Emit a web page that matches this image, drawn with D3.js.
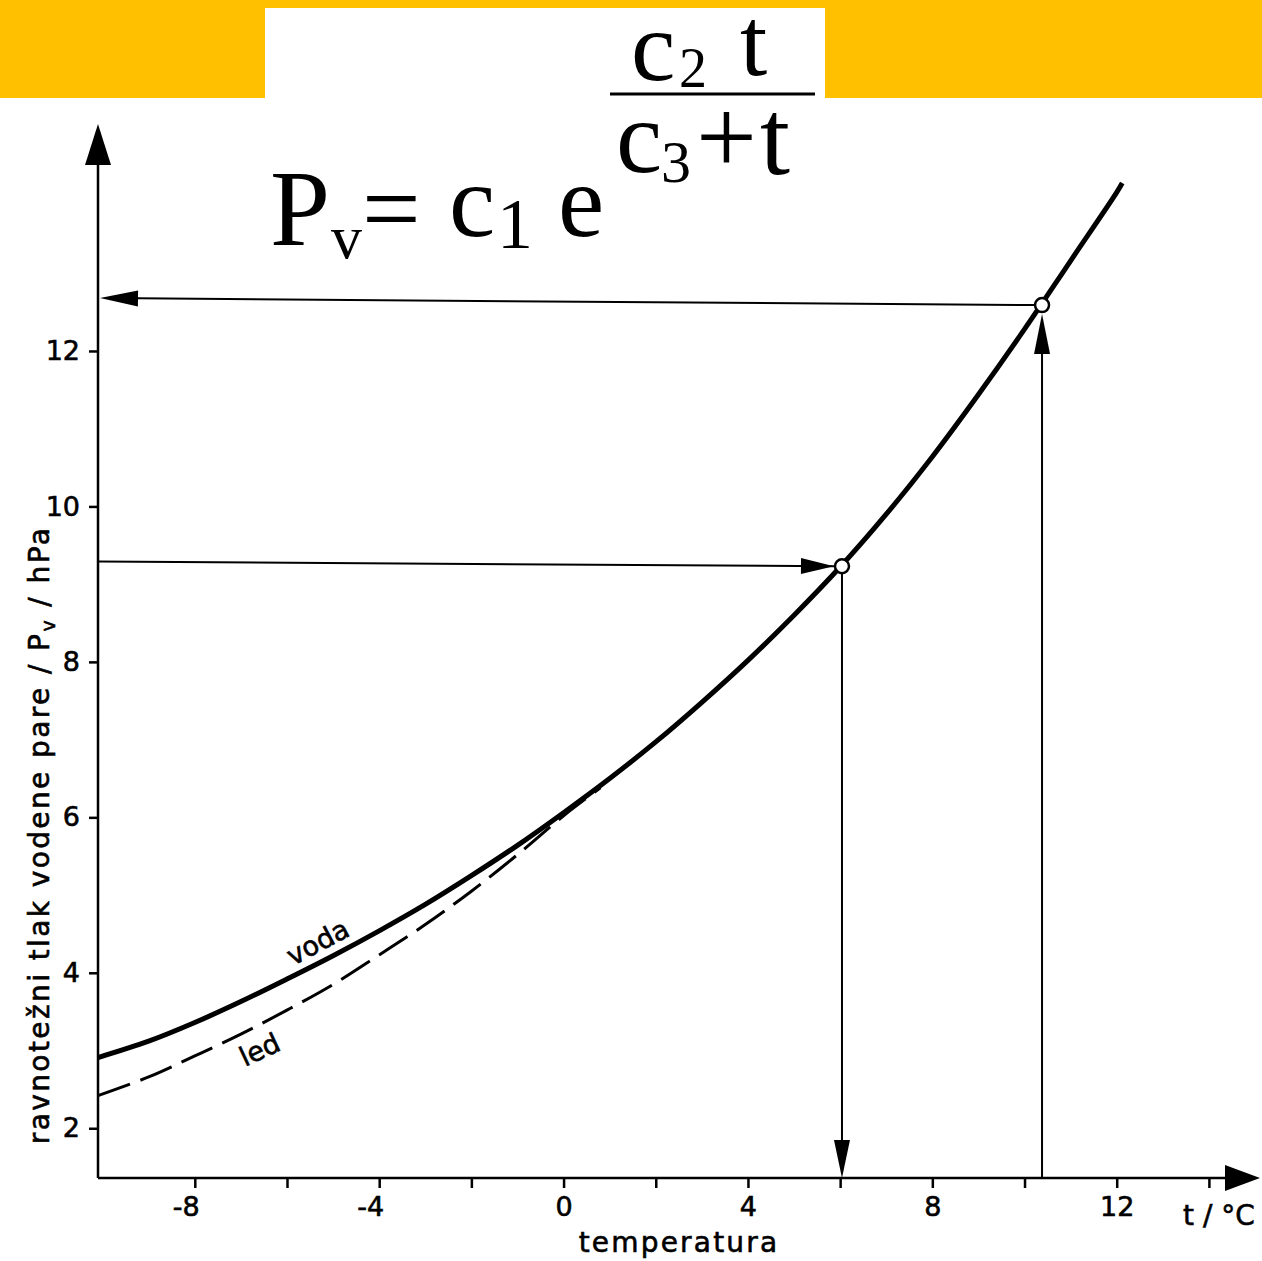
<!DOCTYPE html>
<html>
<head>
<meta charset="utf-8">
<script src="https://cdn.jsdelivr.net/npm/d3@7"></script>
<style>
  html, body { margin: 0; padding: 0; background: #fff; }
  svg { display: block; }
  .lbl { font-family: "DejaVu Sans", sans-serif; fill: #000; stroke: #000; stroke-width: 0.6px; }
  .f { font-family: "Liberation Serif", "Times New Roman", serif; fill: #000; }
</style>
</head>
<body>
<svg id="chart" width="1262" height="1261"></svg>
<script>
// temperature (°C) and saturation vapour pressure (hPa)
var tempVoda = [-10.1, -9, -8, -7, -6, -5, -4, -3, -2, -1, 0, 1, 2, 3, 4, 5, 6, 7, 8, 9, 10, 11, 12, 12.12];
var presVoda = [2.91, 3.12, 3.36, 3.63, 3.92, 4.22, 4.54, 4.88, 5.25, 5.64, 6.06, 6.50, 6.97, 7.48, 8.02, 8.60, 9.22, 9.90, 10.64, 11.44, 12.28, 13.16, 14.04, 14.16];
var tempLed = [-10.1, -9, -8, -7, -6, -5, -4, -3, -2, -1, 0, 0.8];
var presLed = [2.42, 2.66, 2.93, 3.21, 3.52, 3.85, 4.23, 4.62, 5.05, 5.52, 6.02, 6.38];

// the two worked examples (open circles) and where their arrows meet the p axis
var readTemp = [6.04, 10.38];
var readPres = [9.23, 12.59];
var axisPres = [9.29, 12.68];

var xTicks = [-8, -6, -4, -2, 0, 2, 4, 6, 8, 10, 12, 14];
var xTickLabels = ["-8", "", "-4", "", "0", "", "4", "", "8", "", "12", ""];
var yTicks = [2, 4, 6, 8, 10, 12];
var yTickLabels = ["2", "4", "6", "8", "10", "12"];

var svg = d3.select("#chart");
svg.append("rect").attr("width", 1262).attr("height", 1261).attr("fill", "#fff");

var x = d3.scaleLinear().domain([-10.1, 15]).range([98, 1255]);
var y = d3.scaleLinear().domain([1.36, 14.92]).range([1178, 124]);

// header band with formula
svg.append("rect").attr("x", 0).attr("y", 0).attr("width", 1262).attr("height", 98).attr("fill", "#FFC000");
svg.append("rect").attr("x", 265).attr("y", 8).attr("width", 560).attr("height", 90).attr("fill", "#fff");

var formula = [
  { s: "P", x: 270, y: 245, size: 108 },
  { s: "v", x: 331, y: 258, size: 62 },
  { s: "=", x: 362, y: 244, size: 104 },
  { s: "c", x: 449, y: 236, size: 104 },
  { s: "1", x: 497, y: 248, size: 72 },
  { s: "e", x: 558, y: 236, size: 104 },
  { s: "c", x: 631, y: 80, size: 100 },
  { s: "2", x: 679, y: 87, size: 56 },
  { s: "t", x: 740, y: 75, size: 98 },
  { s: "c", x: 616, y: 172, size: 104 },
  { s: "3", x: 661, y: 182, size: 60 },
  { s: "+", x: 696, y: 173, size: 108 },
  { s: "t", x: 760, y: 174, size: 108 }
];
svg.append("g").selectAll("text").data(formula).join("text")
  .attr("class", "f")
  .attr("x", function(d) { return d.x; })
  .attr("y", function(d) { return d.y; })
  .attr("font-size", function(d) { return d.size; })
  .text(function(d) { return d.s; });
svg.append("line").attr("x1", 610).attr("x2", 815).attr("y1", 94).attr("y2", 94)
  .attr("stroke", "#000").attr("stroke-width", 3);

// axes
var xAxis = d3.axisBottom(x).tickValues(xTicks).tickSize(10).tickPadding(9)
  .tickFormat(function(d, i) { return xTickLabels[i]; });
var gx = svg.append("g").attr("transform", "translate(0," + y.range()[0] + ")").call(xAxis);
var yAxis = d3.axisLeft(y).tickValues(yTicks).tickSize(9).tickPadding(9)
  .tickFormat(function(d, i) { return yTickLabels[i]; });
var gy = svg.append("g").attr("transform", "translate(" + x.range()[0] + ",0)").call(yAxis);
[gx, gy].forEach(function(g) {
  g.select(".domain").remove();
  g.selectAll(".tick line").attr("stroke", "#000").attr("stroke-width", 2.5);
  g.selectAll(".tick text").attr("class", "lbl").attr("font-size", 27);
});
// the minus sign hangs to the left of the tick
gx.selectAll(".tick text").attr("dx", function(d) { return d < 0 ? -9 : 0; });

var x0 = x.range()[0], y0 = y.range()[0];
svg.append("line").attr("x1", x0).attr("x2", 1230).attr("y1", y0).attr("y2", y0)
  .attr("stroke", "#000").attr("stroke-width", 2.5);
svg.append("line").attr("x1", x0).attr("x2", x0).attr("y1", y0).attr("y2", 160)
  .attr("stroke", "#000").attr("stroke-width", 2.5);
svg.append("path").attr("d", "M1260," + y0 + "L1225," + (y0 - 13) + "L1225," + (y0 + 13) + "Z").attr("fill", "#000");
svg.append("path").attr("d", "M" + x0 + ",124L" + (x0 - 13) + ",165L" + (x0 + 13) + ",165Z").attr("fill", "#000");

// axis titles
svg.append("text").attr("class", "lbl").attr("font-size", 28).attr("letter-spacing", 2.2)
  .attr("x", 679).attr("y", 1252).attr("text-anchor", "middle").text("temperatura");
svg.append("text").attr("class", "lbl").attr("font-size", 28)
  .attr("x", 1183).attr("y", 1225).text("t / °C");
var yt = svg.append("text").attr("class", "lbl").attr("font-size", 28).attr("letter-spacing", 2.4)
  .attr("text-anchor", "middle")
  .attr("transform", "translate(49,835) rotate(-90)");
yt.append("tspan").text("ravnotežni tlak vodene pare / P");
yt.append("tspan").attr("font-size", 19).attr("dy", 6).text("v");
yt.append("tspan").attr("dy", -6).text(" / hPa");

// curves
var line = d3.line().curve(d3.curveCatmullRom)
  .x(function(d) { return x(d[0]); })
  .y(function(d) { return y(d[1]); });
svg.append("path").attr("d", line(d3.zip(tempLed, presLed)))
  .attr("fill", "none").attr("stroke", "#000").attr("stroke-width", 3)
  .attr("stroke-dasharray", "34,11");
svg.append("path").attr("d", line(d3.zip(tempVoda, presVoda)))
  .attr("fill", "none").attr("stroke", "#000").attr("stroke-width", 5);

svg.append("text").attr("class", "lbl").attr("font-size", 27)
  .attr("transform", "translate(293,966) rotate(-28)").text("voda");
svg.append("text").attr("class", "lbl").attr("font-size", 27)
  .attr("transform", "translate(245,1067) rotate(-25)").text("led");

// reading arrows
function arrowHead(tx, ty, dx, dy, len, hw) {
  var bx = tx - dx * len, by = ty - dy * len;
  return "M" + tx + "," + ty + "L" + (bx - dy * hw) + "," + (by + dx * hw) + "L" + (bx + dy * hw) + "," + (by - dx * hw) + "Z";
}
function arrowHeadTo(tx, ty, fx, fy, len, hw) {
  var L = Math.hypot(tx - fx, ty - fy);
  return arrowHead(tx, ty, (tx - fx) / L, (ty - fy) / L, len, hw);
}
var ga = svg.append("g");
function thin(x1, y1, x2, y2) {
  ga.append("line").attr("x1", x1).attr("y1", y1).attr("x2", x2).attr("y2", y2)
    .attr("stroke", "#000").attr("stroke-width", 2);
}
var r = 7;
// first: pressure read on the axis -> temperature
var c1x = x(readTemp[0]), c1y = y(readPres[0]), a1y = y(axisPres[0]);
thin(x0, a1y, c1x - r, c1y);
ga.append("path").attr("d", arrowHeadTo(c1x - r - 1, c1y, x0, a1y, 33, 8)).attr("fill", "#000");
thin(c1x, c1y + r, c1x, y0 - 10);
ga.append("path").attr("d", arrowHead(c1x, y0, 0, 1, 38, 8)).attr("fill", "#000");
// second: temperature -> pressure
var c2x = x(readTemp[1]), c2y = y(readPres[1]), a2y = y(axisPres[1]);
thin(c2x, y0, c2x, c2y + r + 10);
ga.append("path").attr("d", arrowHead(c2x, c2y + r + 2, 0, -1, 40, 8)).attr("fill", "#000");
thin(c2x - r, c2y, x0 + 10, a2y);
ga.append("path").attr("d", arrowHeadTo(x0 + 2, a2y, c2x, c2y, 38, 8)).attr("fill", "#000");

svg.append("g").selectAll("circle").data(d3.zip(readTemp, readPres)).join("circle")
  .attr("cx", function(d) { return x(d[0]); })
  .attr("cy", function(d) { return y(d[1]); })
  .attr("r", r).attr("fill", "#fff").attr("stroke", "#000").attr("stroke-width", 2.5);
</script>
</body>
</html>
